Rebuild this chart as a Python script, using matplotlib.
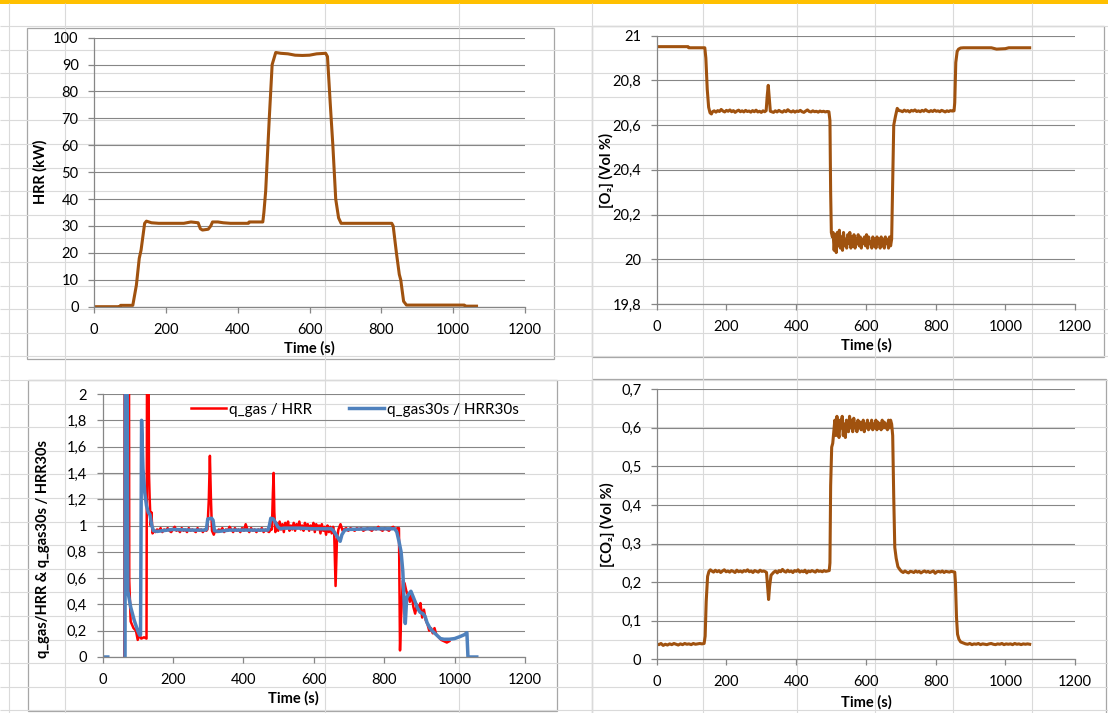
import numpy as np
import matplotlib
matplotlib.use('Agg')
import matplotlib.pyplot as plt
from matplotlib.patches import Rectangle
from matplotlib.ticker import FuncFormatter

plt.rcParams['font.family'] = ['Lato', 'DejaVu Sans']

W, H = 1108, 713

# ---------------- data ----------------
# heat release rate (kW)
hrr_t = [0, 72, 74, 108, 118, 126, 131, 141, 146, 160, 180, 250, 270, 290, 296, 302,
         318, 325, 330, 345, 360, 380, 430, 432, 470, 473, 478, 488, 496, 506, 520,
         540, 560, 580, 600, 620, 645, 650, 658, 665, 673, 681, 688, 700, 760, 829,
         833, 842, 850, 854, 862, 870, 900, 1031, 1034, 1065]
hrr_v = [0, 0, 0.5, 0.5, 8, 18, 21, 31, 31.8, 31.2, 31, 31, 31.5, 31.2, 29, 28.5,
         28.8, 30, 31.5, 31.5, 31.2, 31, 31, 31.5, 31.5, 35, 43, 70, 90, 94.5, 94.2,
         94, 93.5, 93.4, 93.5, 94, 94.2, 93, 75, 60, 40, 33, 31, 31, 31, 31,
         30, 20, 12, 10, 2, 0.6, 0.6, 0.6, 0.2, 0.2]

# oxygen (Vol %)
o2_base_t = [0, 90, 92, 138, 141, 145, 149, 153, 157]
o2_base_v = [20.951, 20.951, 20.946, 20.946, 20.90, 20.76, 20.68, 20.655, 20.650]
o2_plat1 = [20.660, 20.664, 20.658, 20.665, 20.661, 20.670, 20.663, 20.659, 20.666,
            20.662, 20.668, 20.660, 20.665, 20.657, 20.663, 20.667, 20.660, 20.664,
            20.659, 20.666, 20.661, 20.663, 20.658, 20.665, 20.660, 20.667, 20.659,
            20.662, 20.657, 20.664, 20.660]
o2_spike_t = [314, 317, 320, 323, 326]
o2_spike_v = [20.665, 20.73, 20.778, 20.72, 20.662]
o2_plat2 = [20.660, 20.657, 20.664, 20.659, 20.666, 20.661, 20.658, 20.665, 20.660,
            20.669, 20.662, 20.659, 20.664, 20.658, 20.663, 20.661, 20.666, 20.660,
            20.657, 20.663, 20.668, 20.661, 20.659, 20.664, 20.660, 20.662, 20.658,
            20.663, 20.660, 20.662, 20.659, 20.661, 20.660]
o2_drop_t = [497, 499, 501, 504]
o2_drop_v = [20.62, 20.30, 20.12, 20.10]
o2_low = [20.12, 20.04, 20.11, 20.03, 20.12, 20.06, 20.13, 20.05, 20.10, 20.04,
          20.12, 20.06, 20.09, 20.05, 20.11, 20.07, 20.12, 20.05, 20.10, 20.06,
          20.11, 20.05, 20.09, 20.07, 20.11, 20.06, 20.10, 20.05, 20.09, 20.07,
          20.10, 20.06, 20.11, 20.05, 20.10, 20.07, 20.08, 20.05, 20.10, 20.06,
          20.09, 20.05, 20.10, 20.07, 20.09, 20.05, 20.10, 20.06, 20.09, 20.05,
          20.10, 20.07, 20.09, 20.05, 20.10, 20.06, 20.09]
o2_rise_t = [677, 680, 685, 690, 695]
o2_rise_v = [20.35, 20.60, 20.64, 20.675, 20.665]
o2_plat3 = [20.664, 20.660, 20.667, 20.662, 20.665, 20.659, 20.666, 20.663, 20.668,
            20.661, 20.664, 20.660, 20.666, 20.662, 20.669, 20.663, 20.660, 20.665,
            20.661, 20.667, 20.662, 20.664, 20.660, 20.666, 20.663, 20.659, 20.664,
            20.661, 20.665, 20.663, 20.664]
o2_end_t = [855, 858, 862, 866, 872, 880, 960, 975, 1000, 1010, 1070]
o2_end_v = [20.70, 20.88, 20.93, 20.94, 20.945, 20.946, 20.946, 20.940, 20.942,
            20.946, 20.946]

# carbon dioxide (Vol %)
co2_base = [0.040, 0.038, 0.041, 0.036, 0.039, 0.037, 0.040, 0.038, 0.041, 0.039,
            0.037, 0.040, 0.038, 0.041, 0.039, 0.040, 0.038, 0.041, 0.039, 0.040,
            0.041, 0.040, 0.041]
co2_rise1_t = [139, 142, 146, 150, 154]
co2_rise1_v = [0.06, 0.15, 0.215, 0.228, 0.232]
co2_plat1 = [0.229, 0.226, 0.231, 0.227, 0.230, 0.225, 0.229, 0.232, 0.227, 0.229,
             0.226, 0.230, 0.228, 0.225, 0.231, 0.227, 0.229, 0.226, 0.230, 0.228,
             0.232, 0.227, 0.229, 0.225, 0.230, 0.228, 0.226, 0.231, 0.228, 0.229,
             0.227]
co2_dip_t = [315, 318, 321, 324, 328, 332]
co2_dip_v = [0.225, 0.19, 0.155, 0.19, 0.218, 0.222]
co2_plat2 = [0.226, 0.229, 0.224, 0.230, 0.227, 0.233, 0.228, 0.226, 0.231, 0.227,
             0.229, 0.225, 0.230, 0.228, 0.232, 0.226, 0.229, 0.227, 0.231, 0.224,
             0.229, 0.227, 0.230, 0.228, 0.226, 0.231, 0.228, 0.229, 0.227, 0.230,
             0.228, 0.229, 0.230]
co2_rise2_t = [497, 499, 502, 505, 508]
co2_rise2_v = [0.25, 0.45, 0.55, 0.56, 0.59]
co2_high = [0.62, 0.58, 0.63, 0.59, 0.575, 0.62, 0.60, 0.63, 0.58, 0.61,
            0.575, 0.62, 0.60, 0.59, 0.63, 0.60, 0.62, 0.59, 0.625, 0.60,
            0.61, 0.59, 0.62, 0.60, 0.615, 0.595, 0.60, 0.62, 0.59, 0.61,
            0.60, 0.62, 0.595, 0.61, 0.60, 0.62, 0.595, 0.61, 0.60, 0.62,
            0.595, 0.615, 0.60, 0.61, 0.595, 0.62, 0.60, 0.615, 0.60, 0.61,
            0.595, 0.62, 0.60, 0.62, 0.61]
co2_fall1_t = [677, 680, 683, 687, 692, 698]
co2_fall1_v = [0.58, 0.42, 0.29, 0.262, 0.24, 0.232]
co2_plat3 = [0.228, 0.225, 0.229, 0.226, 0.224, 0.228, 0.227, 0.225, 0.229, 0.226,
             0.228, 0.224, 0.227, 0.229, 0.226, 0.228, 0.225, 0.227, 0.229, 0.223,
             0.227, 0.228, 0.226, 0.229, 0.225, 0.228, 0.227, 0.226, 0.228, 0.227,
             0.226]
co2_fall2_t = [857, 860, 863, 867, 872, 880]
co2_fall2_v = [0.20, 0.11, 0.065, 0.052, 0.045, 0.042]
co2_tail = [0.040, 0.039, 0.041, 0.038, 0.040, 0.039, 0.041, 0.038, 0.040, 0.039,
            0.038, 0.040, 0.041, 0.039, 0.038, 0.040, 0.039, 0.041, 0.038, 0.040,
            0.039, 0.040, 0.038, 0.041, 0.039, 0.040, 0.038, 0.040, 0.039, 0.040,
            0.039]

# q_gas / HRR (instantaneous)
qr_head_t = [62, 63, 75, 76, 80, 88, 95, 100, 105, 110, 118, 125, 127, 130, 132,
             134, 137, 139, 142, 146]
qr_head_v = [0, 3.0, 3.0, 0.58, 0.27, 0.22, 0.2, 0.13, 0.17, 0.14, 0.15, 0.14, 3.0,
             3.0, 1.4, 1.2, 1.0, 1.1, 0.94, 0.96]
qr_plat1 = [0.95, 0.97, 0.96, 0.98, 0.95, 0.97, 0.96, 0.98, 0.96, 0.95, 0.97, 0.99,
            0.96, 0.97, 0.95, 0.98, 0.96, 0.97, 0.95, 0.98, 0.96, 0.97, 0.96, 0.95,
            0.98, 0.96, 0.97, 0.95, 0.97, 0.96]
qr_spk1_t = [298, 302, 305, 308, 311, 316]
qr_spk1_v = [0.97, 1.2, 1.53, 1.2, 0.96, 0.93]
qr_plat2 = [0.96, 0.95, 0.97, 0.96, 0.98, 0.95, 0.97, 0.96, 0.99, 0.97, 0.95, 0.98,
            0.96, 0.97, 0.95, 0.98, 0.96, 1.01, 0.97, 0.95, 0.98, 0.96, 0.97, 0.95,
            0.97, 0.96, 0.98, 0.95, 0.97, 0.96, 0.95, 0.97]
qr_spk2_t = [481, 484, 486, 488, 491]
qr_spk2_v = [0.97, 1.25, 1.40, 1.1, 0.95]
qr_plat3 = [1.02, 0.96, 1.03, 0.97, 1.01, 0.95, 1.02, 0.98, 1.03, 0.96, 1.00, 0.97,
            1.02, 0.96, 1.01, 0.98, 1.03, 0.97, 1.00, 0.96, 1.02, 0.98, 1.01, 0.96,
            1.00, 0.97, 1.02, 0.95, 1.01, 0.97, 1.00, 0.94, 1.01, 0.96, 0.99, 0.93,
            1.00, 0.95, 0.99, 0.94, 0.99]
qr_dip_t = [658, 662, 666, 670, 676, 682]
qr_dip_v = [0.95, 0.54, 0.9, 0.97, 1.01, 0.96]
qr_plat4 = [0.97, 0.98, 0.96, 0.98, 0.97, 0.96, 0.98, 0.97, 0.98, 0.96, 0.97, 0.98,
            0.97, 0.96, 0.98, 0.97, 0.99, 0.97, 0.96, 0.98, 0.97, 0.96, 0.98, 0.99,
            0.97, 0.98]
qr_tail_t = [842, 845, 848, 853, 858, 863, 868, 873, 878, 883, 888, 893, 898, 903,
             908, 913, 918, 923, 928, 933, 938, 943, 948, 955, 962, 970, 978, 985]
qr_tail_v = [0.98, 0.05, 0.3, 0.58, 0.56, 0.5, 0.47, 0.42, 0.48, 0.38, 0.33, 0.40,
             0.37, 0.41, 0.30, 0.36, 0.28, 0.25, 0.20, 0.22, 0.18, 0.22, 0.17, 0.15,
             0.13, 0.12, 0.11, 0.12]

# q_gas30s / HRR30s (30 s average)
qb_t = [0, 15, 40, 64, 65, 69, 72, 80, 90, 100, 106, 108, 111, 115, 120, 125, 130,
        135, 140, 145, 155, 170, 200, 250, 290, 295, 299, 310, 314, 318, 330, 360,
        420, 470, 474, 478, 485, 492, 498, 505, 515, 560, 600, 650, 656, 668, 675,
        680, 688, 700, 760, 830, 836, 842, 848, 853, 857, 860, 864, 870, 876, 882,
        888, 895, 902, 910, 916, 922, 930, 940, 950, 960, 970, 985, 1000, 1015, 1028,
        1035, 1038, 1063]
qb_v = [0, 0, np.nan, 0, 3.0, 3.0, 0.5, 0.38, 0.28, 0.2, 0.165, 0.17, 1.8, 1.43,
        1.25, 1.15, 1.1, 1.08, 1.0, 0.96, 0.955, 0.96, 0.97, 0.965, 0.965, 0.97, 1.05,
        1.055, 1.04, 0.96, 0.955, 0.965, 0.965, 0.965, 1.0, 1.055, 1.05, 1.02, 0.99,
        0.975, 0.98, 0.98, 0.975, 0.975, 0.96, 0.91, 0.88, 0.93, 0.965, 0.97, 0.975,
        0.975, 0.95, 0.88, 0.8, 0.65, 0.4, 0.255, 0.45, 0.48, 0.5, 0.46, 0.42, 0.37,
        0.34, 0.33, 0.31, 0.26, 0.22, 0.19, 0.165, 0.14, 0.135, 0.135, 0.14, 0.155,
        0.17, 0.185, 0, 0]


def join(*parts):
    t, v = [], []
    for pt, pv in parts:
        t += list(pt)
        v += list(pv)
    return np.array(t, float), np.array(v, float)


def even(t0, t1, vals):
    # samples logged at a regular interval between t0 and t1
    return np.linspace(t0, t1, len(vals)), vals


o2_t, o2_v = join((o2_base_t, o2_base_v), even(160, 310, o2_plat1),
                  (o2_spike_t, o2_spike_v), even(330, 494, o2_plat2),
                  (o2_drop_t, o2_drop_v), even(506, 674, o2_low),
                  (o2_rise_t, o2_rise_v), even(700, 853, o2_plat3),
                  (o2_end_t, o2_end_v))
co2_t, co2_v = join(even(0, 136, co2_base), (co2_rise1_t, co2_rise1_v),
                    even(158, 312, co2_plat1), (co2_dip_t, co2_dip_v),
                    even(336, 495, co2_plat2), (co2_rise2_t, co2_rise2_v),
                    even(511, 674, co2_high), (co2_fall1_t, co2_fall1_v),
                    even(702, 855, co2_plat3), (co2_fall2_t, co2_fall2_v),
                    even(886, 1070, co2_tail))
qr_t, qr_v = join((qr_head_t, qr_head_v), even(150, 295, qr_plat1),
                  (qr_spk1_t, qr_spk1_v), even(320, 478, qr_plat2),
                  (qr_spk2_t, qr_spk2_v), even(495, 655, qr_plat3),
                  (qr_dip_t, qr_dip_v), even(686, 838, qr_plat4),
                  (qr_tail_t, qr_tail_v))

# ---------------- figure ----------------
BROWN = '#A0520F'
GRID = '#868686'
fig = plt.figure(figsize=(W / 100, H / 100), dpi=100)

# spreadsheet background
bg = fig.add_axes([0, 0, 1, 1])
bg.set_xlim(0, W)
bg.set_ylim(H, 0)
bg.axis('off')
rows = 26 + 23.6 * np.arange(30)
cols = [9, 65, 325, 459, 592, 703, 797, 875, 953, 1032]
bg.hlines(rows, 0, W, color='#dadada', lw=0.8)
bg.vlines(cols, 3, H, color='#dadada', lw=0.8)
bg.add_patch(Rectangle((0, 0), W, 3.5, color='#FFC000', lw=0))
for x0, y0, x1, y1 in [(27, 28, 554, 359), (592, 26, 1104, 357),
                       (28, 380, 556.5, 710.5), (592, 379, 1106, 716)]:
    bg.add_patch(Rectangle((x0, y0), x1 - x0, y1 - y0, fc='white', ec='#a6a6a6', lw=0.9))


def px_axes(x0, y0, x1, y1):
    a = fig.add_axes([x0 / W, 1 - y1 / H, (x1 - x0) / W, (y1 - y0) / H])
    a.patch.set_alpha(0)
    return a


def comma(v, pos):
    return ('%g' % round(v, 3)).replace('.', ',')


def style(a, ylim, yticks):
    a.set_xlim(0, 1200)
    a.set_xticks(range(0, 1201, 200))
    a.set_ylim(*ylim)
    a.set_yticks(yticks)
    a.yaxis.set_major_formatter(FuncFormatter(comma))
    for s in ['top', 'right']:
        a.spines[s].set_visible(False)
    for s in ['left', 'bottom']:
        a.spines[s].set_color(GRID)
        a.spines[s].set_linewidth(0.9)
    a.tick_params(direction='out', length=4.5, width=0.9, color=GRID,
                  labelsize=10.5, labelcolor='black')
    a.tick_params(axis='x', pad=7)
    a.tick_params(axis='y', pad=6.5)
    a.grid(axis='y', color=GRID, lw=0.8)
    a.set_axisbelow(True)


def label(x, y, text, rot=0):
    fig.text(x / W, 1 - y / H, text, rotation=rot, ha='center', va='center',
             fontsize=10.5, fontweight='bold')


ax1 = px_axes(94, 37.7, 525, 306.7)
style(ax1, (0, 100), range(0, 101, 10))
ax1.plot(hrr_t, hrr_v, color=BROWN, lw=2.2)
label(309, 348, 'Time (s)')
label(40, 172, 'HRR (kW)', 90)

ax2 = px_axes(656.7, 35.7, 1075, 304)
style(ax2, (19.8, 21), np.round(np.arange(19.8, 21.01, 0.2), 1))
ax2.plot(o2_t, o2_v, color=BROWN, lw=2.2)
label(866, 345, 'Time (s)')
label(606, 170, '[O\u2082] (Vol %)', 90)

ax3 = px_axes(102.5, 394, 525, 657)
style(ax3, (0, 2), np.round(np.arange(0, 2.01, 0.2), 1))
ax3.plot(qr_t, qr_v, color='#FF0000', lw=1.8, label='q_gas / HRR')
ax3.plot(qb_t, qb_v, color='#4F81BD', lw=2.5, label='q_gas30s / HRR30s')
ax3.legend(ncol=2, loc='center right', bbox_to_anchor=(1.0, 0.94), frameon=False,
           fontsize=11, handlelength=2.3, handletextpad=0.2, columnspacing=2.4,
           borderaxespad=0)
label(293, 698, 'Time (s)')
label(43, 549, 'q_gas/HRR & q_gas30s / HRR30s', 90)

ax4 = px_axes(656.7, 389.3, 1075, 659.3)
style(ax4, (0, 0.7), np.round(np.arange(0, 0.71, 0.1), 1))
ax4.plot(co2_t, co2_v, color=BROWN, lw=2.2)
label(866, 702, 'Time (s)')
label(607, 525, '[CO\u2082] (Vol %)', 90)

fig.savefig('out.png', dpi=100)
